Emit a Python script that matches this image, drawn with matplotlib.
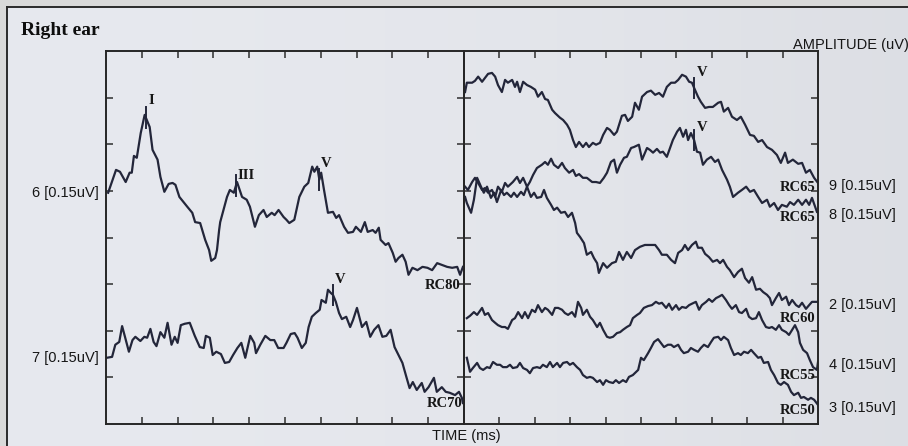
import numpy as np
import matplotlib.pyplot as plt
from matplotlib.lines import Line2D

# traces as (time ms, vertical position in divisions)
rc80 = [(0.06,4.96),(0.28,5.45),(0.39,5.41),(0.55,5.19),(0.66,5.39),(0.72,5.39),(0.78,5.75),(0.86,5.71),
        (0.97,6.24),(1.08,6.63),(1.14,6.52),(1.22,6.37),(1.30,5.88),(1.44,5.67),(1.52,5.30),(1.63,4.98),
        (1.75,5.15),(1.86,5.17),(1.94,5.13),(2.05,4.87),(2.27,4.66),(2.41,4.53),(2.49,4.33),(2.63,4.31),
        (2.77,3.95),(2.88,3.73),(2.94,3.50),(3.05,3.56),(3.10,3.73),(3.16,4.16),(3.19,4.33),(3.38,4.87),
        (3.46,5.02),(3.57,4.96),(3.66,5.19),(3.80,4.87),(3.93,4.81),(4.02,4.66),(4.16,4.23),(4.27,4.48),
        (4.40,4.59),(4.49,4.44),(4.63,4.53),(4.71,4.48),(4.82,4.59),(4.96,4.44),(5.04,4.38),(5.12,4.31),
        (5.26,4.38),(5.40,4.87),(5.54,5.09),(5.65,5.17),(5.76,5.52),(5.82,5.41),(5.90,5.52),(5.96,5.24),
        (6.01,5.39),(6.09,5.02),(6.20,4.53),(6.34,4.55),(6.43,4.42),(6.51,4.48),(6.65,4.23),(6.76,4.10),
        (6.90,4.12),(6.98,4.23),(7.12,4.12),(7.23,4.33),(7.31,4.12),(7.45,4.16),(7.53,4.10),(7.62,4.21),
        (7.67,3.95),(7.81,3.84),(7.89,3.88),(8.01,3.67),(8.09,3.48),(8.17,3.56),(8.28,3.63),(8.37,3.48),
        (8.45,3.20),(8.56,3.35),(8.70,3.30),(8.84,3.37),(8.98,3.35),(9.11,3.30),(9.25,3.45),(9.39,3.41),
        (9.53,3.37),(9.67,3.35),(9.81,3.37),(9.89,3.20),(9.97,3.37)]

rc70 = [(0.02,1.42),(0.17,1.44),(0.26,1.70),(0.37,1.76),(0.45,2.10),(0.53,1.87),(0.64,1.55),(0.74,1.80),
        (0.82,1.87),(0.96,1.78),(1.07,1.87),(1.15,1.85),(1.24,2.04),(1.33,1.76),(1.41,1.67),(1.52,1.97),
        (1.63,1.85),(1.72,2.17),(1.83,1.70),(1.92,1.87),(2.00,1.74),(2.09,2.12),(2.20,2.15),(2.34,2.17),
        (2.48,1.89),(2.62,1.65),(2.73,1.63),(2.79,1.89),(2.90,1.85),(2.98,1.48),(3.08,1.55),(3.21,1.50),
        (3.32,1.31),(3.44,1.33),(3.55,1.48),(3.67,1.63),(3.78,1.74),(3.89,1.42),(4.03,1.89),(4.14,1.74),
        (4.19,1.52),(4.31,1.70),(4.45,1.89),(4.59,1.80),(4.70,1.80),(4.81,1.63),(4.96,1.63),(5.04,1.74),
        (5.16,1.93),(5.27,1.95),(5.35,1.85),(5.47,1.63),(5.58,1.74),(5.66,2.08),(5.75,2.30),(5.86,2.38),
        (5.97,2.45),(6.02,2.66),(6.14,2.60),(6.20,2.88),(6.28,2.81),(6.34,2.77),(6.42,2.62),(6.51,2.38),
        (6.59,2.25),(6.71,2.30),(6.82,2.08),(6.90,2.23),(7.01,2.49),(7.15,2.08),(7.27,2.19),(7.38,1.87),
        (7.49,2.02),(7.61,2.12),(7.72,1.87),(7.83,1.89),(7.95,2.02),(8.06,1.65),(8.17,1.48),(8.28,1.31),
        (8.39,1.01),(8.48,0.77),(8.57,0.90),(8.68,0.73),(8.82,0.88),(8.90,0.69),(9.01,0.79),(9.16,0.99),
        (9.24,0.69),(9.38,0.79),(9.49,0.69),(9.60,0.67),(9.75,0.62),(9.86,0.69),(9.94,0.56),(9.97,0.45)]

rc65_a = [(0.03,7.12),(0.08,7.32),(0.23,7.32),(0.31,7.36),(0.40,7.45),(0.51,7.34),(0.59,7.42),(0.68,7.51),
          (0.79,7.53),(0.88,7.45),(0.96,7.27),(1.07,7.12),(1.16,7.38),(1.24,7.32),(1.36,7.38),(1.44,7.23),
          (1.50,7.34),(1.58,7.12),(1.67,7.34),(1.78,7.27),(1.89,7.23),(2.01,7.17),(2.09,7.02),(2.20,7.12),
          (2.29,6.97),(2.37,6.95),(2.49,6.74),(2.57,6.67),(2.71,6.57),(2.80,6.52),(2.91,6.42),(2.99,6.31),
          (3.08,6.09),(3.16,5.94),(3.25,6.05),(3.36,5.94),(3.45,6.03),(3.53,5.94),(3.64,6.03),(3.73,5.99),
          (3.84,6.03),(3.93,6.20),(4.04,6.35),(4.12,6.31),(4.24,6.20),(4.32,6.27),(4.46,6.61),(4.55,6.63),
          (4.63,6.50),(4.75,6.59),(4.83,6.89),(4.94,6.74),(5.03,7.02),(5.17,7.12),(5.28,7.15),(5.40,7.06),
          (5.51,7.10),(5.62,7.02),(5.73,7.23),(5.85,7.32),(5.96,7.32),(6.05,7.38),(6.16,7.49),(6.27,7.45),
          (6.36,7.34),(6.44,7.32),(6.50,7.21),(6.61,7.02),(6.69,6.91),(6.81,6.78),(6.92,6.80),(7.03,6.80),
          (7.18,6.89),(7.26,6.91),(7.34,6.70),(7.46,6.78),(7.57,6.59),(7.71,6.52),(7.82,6.59),(7.94,6.42),
          (8.08,6.20),(8.19,6.18),(8.31,6.05),(8.42,6.09),(8.56,5.94),(8.70,5.88),(8.84,5.77),(8.95,5.60),
          (9.07,5.82),(9.15,5.60),(9.29,5.67),(9.44,5.58),(9.55,5.60),(9.66,5.39),(9.77,5.45),(9.89,5.28),
          (10.0,5.17)]

rc65_b = [(0.03,5.09),(0.11,5.02),(0.23,5.19),(0.31,5.28),(0.40,5.17),(0.51,5.02),(0.59,5.06),(0.68,4.96),
          (0.79,5.02),(0.88,4.87),(0.96,5.09),(1.07,4.98),(1.16,5.17),(1.24,5.09),(1.38,5.19),(1.50,5.30),
          (1.58,5.17),(1.67,5.28),(1.78,5.09),(1.86,5.19),(1.95,5.34),(2.06,5.49),(2.20,5.56),(2.29,5.62),
          (2.37,5.56),(2.46,5.69),(2.54,5.56),(2.66,5.49),(2.77,5.60),(2.85,5.49),(2.97,5.39),(3.08,5.45),
          (3.16,5.32),(3.25,5.36),(3.36,5.28),(3.47,5.28),(3.62,5.19),(3.73,5.19),(3.84,5.17),(3.95,5.28),
          (4.04,5.39),(4.15,5.62),(4.24,5.67),(4.32,5.39),(4.41,5.56),(4.52,5.71),(4.60,5.73),(4.72,5.92),
          (4.80,5.94),(4.94,5.99),(5.03,5.67),(5.17,5.92),(5.25,5.88),(5.34,5.82),(5.45,5.90),(5.54,5.82),
          (5.62,5.84),(5.73,5.73),(5.82,5.92),(5.90,6.09),(6.02,6.27),(6.10,6.35),(6.19,6.16),(6.27,6.31),
          (6.33,6.09),(6.41,6.24),(6.50,6.09),(6.58,5.84),(6.67,5.82),(6.75,5.56),(6.86,5.67),(6.98,5.73),
          (7.09,5.62),(7.18,5.67),(7.29,5.45),(7.43,5.24),(7.51,5.09),(7.60,4.87),(7.74,4.96),(7.85,5.02),
          (7.97,5.09),(8.08,4.98),(8.19,5.02),(8.31,4.87),(8.42,4.74),(8.56,4.81),(8.64,4.66),(8.76,4.74),
          (8.87,4.59),(8.98,4.70),(9.12,4.66),(9.21,4.76),(9.32,4.70),(9.44,4.81),(9.55,4.70),(9.66,4.81),
          (9.75,4.70),(9.83,4.85),(9.97,4.55)]

rc60 = [(0.03,4.87),(0.08,4.74),(0.20,4.53),(0.28,4.81),(0.37,5.28),(0.48,5.09),(0.56,4.96),(0.65,5.09),
        (0.76,4.85),(0.85,4.96),(0.93,4.76),(1.05,5.02),(1.13,4.91),(1.21,4.96),(1.33,4.87),(1.41,4.96),
        (1.50,4.87),(1.61,4.98),(1.69,4.91),(1.78,5.09),(1.89,4.87),(1.98,4.96),(2.06,4.85),(2.18,4.87),
        (2.26,5.02),(2.34,4.85),(2.46,4.70),(2.54,4.59),(2.63,4.64),(2.74,4.53),(2.85,4.55),(2.94,4.44),
        (3.05,4.53),(3.14,4.31),(3.19,4.10),(3.28,4.01),(3.39,3.88),(3.47,3.63),(3.59,3.69),(3.67,3.56),
        (3.76,3.45),(3.81,3.24),(3.93,3.45),(4.04,3.35),(4.18,3.45),(4.29,3.48),(4.38,3.69),(4.49,3.52),
        (4.60,3.69),(4.72,3.56),(4.83,3.73),(4.97,3.80),(5.11,3.84),(5.25,3.84),(5.40,3.84),(5.51,3.73),
        (5.59,3.63),(5.73,3.63),(5.85,3.52),(5.96,3.45),(6.05,3.67),(6.16,3.73),(6.24,3.84),(6.33,3.73),
        (6.44,3.84),(6.55,3.91),(6.61,3.78),(6.72,3.78),(6.81,3.65),(6.92,3.58),(7.03,3.48),(7.15,3.52),
        (7.23,3.45),(7.32,3.52),(7.43,3.37),(7.51,3.30),(7.63,3.15),(7.74,3.26),(7.85,3.33),(7.94,3.13),
        (8.05,3.03),(8.14,3.15),(8.25,2.88),(8.36,2.90),(8.45,2.83),(8.56,2.77),(8.64,2.70),(8.70,2.55),
        (8.81,2.70),(8.90,2.81),(8.98,2.66),(9.10,2.73),(9.18,2.55),(9.27,2.66),(9.38,2.55),(9.46,2.51),
        (9.55,2.60),(9.66,2.47),(9.75,2.55),(9.83,2.62),(9.97,2.62)]

rc55 = [(0.08,2.27),(0.17,2.32),(0.28,2.40),(0.37,2.34),(0.51,2.49),(0.59,2.34),(0.68,2.38),(0.79,2.23),
        (0.88,2.17),(0.96,2.12),(1.07,2.08),(1.16,2.08),(1.24,2.04),(1.36,2.23),(1.44,2.27),(1.53,2.40),
        (1.64,2.27),(1.72,2.40),(1.81,2.27),(1.92,2.45),(2.01,2.40),(2.09,2.55),(2.20,2.40),(2.29,2.49),
        (2.37,2.45),(2.49,2.34),(2.57,2.49),(2.66,2.49),(2.77,2.45),(2.85,2.38),(2.94,2.34),(3.05,2.40),
        (3.14,2.30),(3.22,2.62),(3.31,2.49),(3.36,2.34),(3.47,2.45),(3.56,2.30),(3.64,2.23),(3.76,2.08),
        (3.84,2.17),(3.93,2.02),(4.04,1.87),(4.12,1.85),(4.21,1.87),(4.32,1.95),(4.41,1.97),(4.49,2.02),
        (4.60,2.08),(4.69,2.12),(4.77,2.27),(4.89,2.34),(4.97,2.38),(5.08,2.49),(5.20,2.53),(5.31,2.55),
        (5.42,2.62),(5.51,2.58),(5.59,2.60),(5.71,2.49),(5.79,2.58),(5.88,2.45),(5.99,2.55),(6.07,2.45),
        (6.16,2.51),(6.27,2.49),(6.36,2.55),(6.44,2.58),(6.55,2.62),(6.64,2.45),(6.72,2.55),(6.84,2.62),
        (6.92,2.68),(7.01,2.62),(7.12,2.70),(7.20,2.73),(7.29,2.77),(7.40,2.66),(7.49,2.55),(7.57,2.47),
        (7.68,2.55),(7.77,2.40),(7.85,2.38),(7.97,2.47),(8.05,2.30),(8.14,2.25),(8.25,2.27),(8.33,2.40),
        (8.42,2.23),(8.53,2.08),(8.62,2.06),(8.70,2.08),(8.81,2.02),(8.90,2.12),(8.98,2.02),(9.10,1.97),
        (9.18,1.91),(9.27,2.02),(9.35,2.12),(9.44,1.97),(9.49,1.74),(9.58,1.59),(9.69,1.52),(9.77,1.37),
        (9.86,1.22),(9.97,1.16),(10.0,1.33)]

rc50 = [(0.08,1.42),(0.17,1.12),(0.25,1.20),(0.37,1.31),(0.45,1.20),(0.54,1.16),(0.65,1.22),(0.73,1.20),
        (0.82,1.33),(0.93,1.27),(1.02,1.27),(1.10,1.22),(1.21,1.22),(1.30,1.27),(1.38,1.20),(1.50,1.22),
        (1.58,1.31),(1.67,1.20),(1.78,1.16),(1.86,1.09),(1.95,1.20),(2.06,1.22),(2.15,1.20),(2.23,1.27),
        (2.34,1.22),(2.43,1.33),(2.51,1.22),(2.63,1.31),(2.71,1.22),(2.80,1.31),(2.91,1.33),(2.99,1.27),
        (3.08,1.31),(3.19,1.22),(3.28,1.16),(3.36,1.05),(3.47,0.99),(3.56,1.01),(3.64,0.99),(3.76,0.90),
        (3.84,0.94),(3.93,0.84),(4.01,0.94),(4.10,0.90),(4.21,0.88),(4.29,0.94),(4.38,0.88),(4.49,0.94),
        (4.58,0.90),(4.66,1.01),(4.77,1.05),(4.92,1.16),(5.00,1.42),(5.08,1.37),(5.20,1.52),(5.28,1.63),
        (5.37,1.76),(5.48,1.82),(5.56,1.74),(5.65,1.65),(5.76,1.70),(5.85,1.70),(5.93,1.65),(6.05,1.70),
        (6.13,1.59),(6.21,1.52),(6.33,1.55),(6.41,1.63),(6.50,1.59),(6.61,1.55),(6.69,1.63),(6.78,1.70),
        (6.89,1.65),(6.98,1.76),(7.06,1.85),(7.18,1.87),(7.26,1.80),(7.34,1.87),(7.46,1.80),(7.54,1.63),
        (7.63,1.48),(7.74,1.52),(7.82,1.48),(7.91,1.55),(8.02,1.52),(8.11,1.59),(8.19,1.52),(8.31,1.42),
        (8.39,1.44),(8.47,1.31),(8.59,1.33),(8.67,1.16),(8.76,1.05),(8.87,0.88),(8.95,0.84),(9.04,0.90),
        (9.15,0.84),(9.24,0.69),(9.32,0.62),(9.44,0.67),(9.52,0.56),(9.60,0.58),(9.72,0.52),(9.80,0.56),
        (9.89,0.52),(10.0,0.41)]

left_traces = [rc80, rc70]
left_channels = ['6', '7']
left_rc = ['RC80', 'RC70']

right_traces = [rc65_a, rc65_b, rc60, rc55, rc50]
right_channels = ['9', '8', '2', '4', '3']
right_rc = ['RC65', 'RC65', 'RC60', 'RC55', 'RC50']

# marked peaks: (trace, wave name, latency ms)
left_peaks = [(rc80, 'I', 1.11), (rc80, 'III', 3.63), (rc80, 'V', 5.96), (rc70, 'V', 6.34)]
right_peaks = [(rc65_a, 'V', 6.50), (rc65_b, 'V', 6.50)]

W, H = 908, 446
ink = '#23263a'
txt = '#161616'
serif = 'Liberation Serif'
sans = 'Liberation Sans'


def px_box(x0, y0, x1, y1):
    return [x0 / W, 1 - y1 / H, (x1 - x0) / W, (y1 - y0) / H]


fig = plt.figure(figsize=(W / 100, H / 100), dpi=100)
fig.patch.set_facecolor('#d9d9d9')

# paper inside the frame, a little brighter towards the left
bg = fig.add_axes(px_box(7, 7, W, H), zorder=-1)
gx = np.linspace(0, 1, 200)
shade = np.tile(0.905 - 0.04 * gx ** 2, (20, 1))
rgb = np.dstack([shade, shade + 0.008, shade + 0.03])
bg.imshow(np.clip(rgb, 0, 1), aspect='auto', extent=(0, 1, 0, 1))
bg.set_axis_off()

fig.add_artist(Line2D([7 / W, 1], [1 - 7 / H, 1 - 7 / H], transform=fig.transFigure,
                      color='#2a2a2a', lw=1.4))
fig.add_artist(Line2D([7 / W, 7 / W], [0, 1 - 7 / H], transform=fig.transFigure,
                      color='#2a2a2a', lw=1.4))

ax_l = fig.add_axes(px_box(106, 51, 464, 424))
ax_r = fig.add_axes(px_box(464, 51, 818, 424))

for ax in (ax_l, ax_r):
    ax.set_facecolor('none')
    ax.set_xlim(0, 10)
    ax.set_ylim(0, 8)
    ax.set_xticks(np.arange(1, 10))
    ax.set_yticks(np.arange(1, 8))
    ax.tick_params(direction='in', length=5, width=1.1, color='#2e2e2e',
                   top=True, right=True, labelleft=False, labelbottom=False)
    for s in ax.spines.values():
        s.set_color('#262626')
        s.set_linewidth(1.4)


def draw_traces(ax, traces):
    for tr in traces:
        t, v = np.array(tr).T
        ax.plot(t, v, color=ink, lw=1.6, solid_joinstyle='round')


draw_traces(ax_l, left_traces)
draw_traces(ax_r, right_traces)


def draw_peaks(ax, peaks, offsets):
    for (tr, name, lat), (dx, dy) in zip(peaks, offsets):
        t, v = np.array(tr).T
        y = np.interp(lat, t, v)
        ax.plot([lat, lat], [y - 0.22, y + 0.22], color=ink, lw=1.4)
        ax.annotate(name, xy=(lat, y + 0.22), xytext=(dx, dy), textcoords='offset points',
                    ha='center', va='center', family=serif, weight='bold', fontsize=10.5, color=txt)


draw_peaks(ax_l, left_peaks, [(4, 5), (7, 0), (5, 4), (5, 4)])
draw_peaks(ax_r, right_peaks, [(6, 4), (6, 2)])

# stimulus level under each trace end
rc_left_pos = [(9.9, 2.98), (9.95, 0.45)]
rc_right_pos = [(9.92, 5.08), (9.92, 4.42), (9.92, 2.27), (9.92, 1.05), (9.92, 0.30)]
for ax, names, pos in ((ax_l, left_rc, rc_left_pos), (ax_r, right_rc, rc_right_pos)):
    for name, (x, y) in zip(names, pos):
        ax.text(x, y, name, ha='right', va='center', family=serif, weight='bold',
                fontsize=10.5, color=txt)

# channel labels beside the start (left) or end (right) of each trace
for tr, ch in zip(left_traces, left_channels):
    ax_l.annotate(f'{ch} [0.15uV]', xy=(0, tr[0][1]), xycoords=('axes fraction', 'data'),
                  xytext=(-5, 0), textcoords='offset points', ha='right', va='center',
                  family=sans, fontsize=10.5, color=txt)
for tr, ch in zip(right_traces, right_channels):
    ax_r.annotate(f'{ch} [0.15uV]', xy=(1, tr[-1][1]), xycoords=('axes fraction', 'data'),
                  xytext=(8, -2), textcoords='offset points', ha='left', va='center',
                  family=sans, fontsize=10.5, color=txt)

fig.text(21 / W, 1 - 35 / H, 'Right ear', family=serif, weight='bold', fontsize=14,
         va='baseline', color='#0e0e0e')
fig.text(793 / W, 1 - 45 / H, 'AMPLITUDE (uV)', family=sans, fontsize=10.5,
         va='center', color=txt)
fig.text(466 / W, 1 - 436 / H, 'TIME (ms)', family=sans, fontsize=10.5,
         ha='center', va='center', color=txt)

fig.savefig('out.png', dpi=100, facecolor=fig.get_facecolor())
